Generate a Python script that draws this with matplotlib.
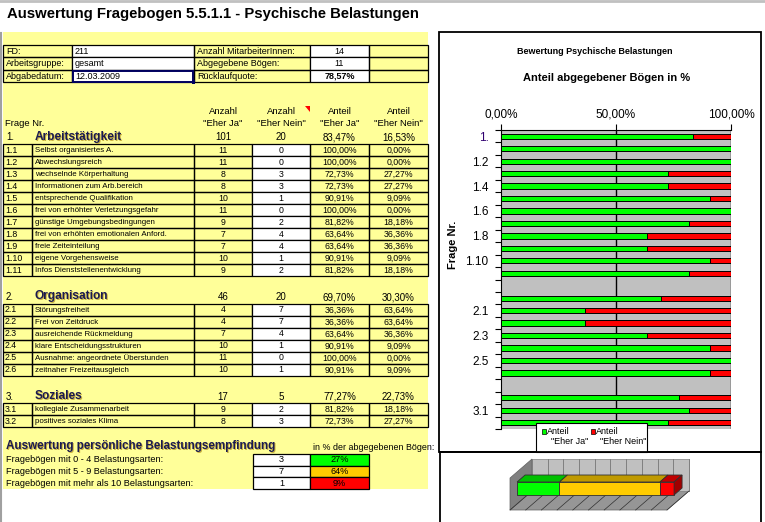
import numpy as np
import matplotlib
matplotlib.use('Agg')
import matplotlib.pyplot as plt
from matplotlib.patches import Rectangle, Polygon

plt.rcParams['font.family'] = ['Liberation Sans', 'DejaVu Sans']

# ---- data ----
info_left = ['FD:', 'Arbeitsgruppe:', 'Abgabedatum:']
info_left_val = ['211', 'gesamt', '12.03.2009']
info_right = ['Anzahl MitarbeiterInnen:', 'Abgegebene Bögen:', 'Rücklaufquote:']
info_right_val = ['14', '11', '78,57%']

sec_nr = ['1.', '2.', '3.']
sec_titles = ['Arbeitstätigkeit', 'Organisation', 'Soziales']
sec_ja = [101, 46, 17]
sec_nein = [20, 20, 5]
sec_pct_ja = [83.47, 69.70, 77.27]
sec_pct_nein = [16.53, 30.30, 22.73]

nr_1 = ['1.1', '1.2', '1.3', '1.4', '1.5', '1.6', '1.7', '1.8', '1.9', '1.10', '1.11']
text_1 = ['Selbst organisiertes A.', 'Abwechslungsreich', 'wechselnde Körperhaltung',
          'Informationen zum Arb.bereich', 'entsprechende Qualifikation',
          'frei von erhöhter Verletzungsgefahr', 'günstige Umgebungsbedingungen',
          'frei von erhöhten emotionalen Anford.', 'freie Zeiteinteilung',
          'eigene Vorgehensweise', 'Infos Dienststellenentwicklung']
ja_1 = [11, 11, 8, 8, 10, 11, 9, 7, 7, 10, 9]
nein_1 = [0, 0, 3, 3, 1, 0, 2, 4, 4, 1, 2]
pct_ja_1 = [100.00, 100.00, 72.73, 72.73, 90.91, 100.00, 81.82, 63.64, 63.64, 90.91, 81.82]
pct_nein_1 = [0.00, 0.00, 27.27, 27.27, 9.09, 0.00, 18.18, 36.36, 36.36, 9.09, 18.18]

nr_2 = ['2.1', '2.2', '2.3', '2.4', '2.5', '2.6']
text_2 = ['Störungsfreiheit', 'Frei von Zeitdruck', 'ausreichende Rückmeldung',
          'klare Entscheidungsstrukturen', 'Ausnahme: angeordnete Überstunden',
          'zeitnaher Freizeitausgleich']
ja_2 = [4, 4, 7, 10, 11, 10]
nein_2 = [7, 7, 4, 1, 0, 1]
pct_ja_2 = [36.36, 36.36, 63.64, 90.91, 100.00, 90.91]
pct_nein_2 = [63.64, 63.64, 36.36, 9.09, 0.00, 9.09]

nr_3 = ['3.1', '3.2']
text_3 = ['kollegiale Zusammenarbeit', 'positives soziales Klima']
ja_3 = [9, 8]
nein_3 = [2, 3]
pct_ja_3 = [81.82, 72.73]
pct_nein_3 = [18.18, 27.27]

bel_labels = ['Fragebögen mit 0 - 4 Belastungsarten:', 'Fragebögen mit 5 - 9 Belastungsarten:',
              'Fragebögen mit mehr als 10 Belastungsarten:']
bel_count = [3, 7, 1]
bel_pct = [27, 64, 9]
bel_colors = ['#00FF00', '#FFCC00', '#FF0000']
bel_top = ['#00C000', '#C09A00', '#C00000']

sections = [(nr_1, text_1, ja_1, nein_1, pct_ja_1, pct_nein_1),
            (nr_2, text_2, ja_2, nein_2, pct_ja_2, pct_nein_2),
            (nr_3, text_3, ja_3, nein_3, pct_ja_3, pct_nein_3)]


def pct(v, d=2):
    return f'{v:.{d}f}'.replace('.', ',') + '%'


fig = plt.figure(figsize=(7.65, 5.22), dpi=100)
bg = fig.add_axes([0, 0, 1, 1], zorder=0)
bg.set_xlim(0, 765)
bg.set_ylim(522, 0)
bg.axis('off')

YEL = '#FFFF99'
bg.add_patch(Rectangle((3, 32), 425, 457, facecolor=YEL, edgecolor='none'))
bg.plot([0, 765], [1, 1], color='#C0C0C0', lw=2)
bg.plot([1, 1], [33, 522], color='#A0A0A0', lw=1.5)

bg.text(7, 14, 'Auswertung Fragebogen 5.5.1.1 - Psychische Belastungen',
        fontsize=10.7, fontweight='bold', va='center')


def cell(x0, x1, y0, h, fc=None, lw=0.9):
    bg.add_patch(Rectangle((x0, y0), x1 - x0, h, facecolor=fc if fc else 'none',
                           edgecolor='black', lw=lw))


def shadow_text(x, y, s, size):
    bg.text(x + 0.7, y + 0.7, s, fontsize=size, fontweight='bold', va='center', color='#C8B040')
    bg.text(x, y, s, fontsize=size, fontweight='bold', va='center', color='#1A1A50')


# info block
ix = [3, 72, 194, 310, 369, 428]
for i in range(3):
    y0 = 45 + i * 12.3
    cell(ix[0], ix[1], y0, 12.3)
    cell(ix[1], ix[2], y0, 12.3, 'white')
    cell(ix[2], ix[3], y0, 12.3)
    cell(ix[3], ix[4], y0, 12.3, 'white')
    cell(ix[4], ix[5], y0, 12.3)
    yc = y0 + 6.5
    bg.text(6, yc, info_left[i], fontsize=6.5, va='center')
    bg.text(75, yc, info_left_val[i], fontsize=6.5, va='center')
    bg.text(197, yc, info_right[i], fontsize=6.5, va='center')
    bg.text((ix[3] + ix[4]) / 2, yc, info_right_val[i], fontsize=6.5, va='center', ha='center',
            fontweight='bold' if i == 2 else 'normal')
# selected cell
bg.add_patch(Rectangle((73, 70.5), 120.5, 11, facecolor='none', edgecolor='#000060', lw=1.4))
bg.add_patch(Rectangle((192, 80), 3.5, 3.5, facecolor='#000060', edgecolor='none'))

# table header
cx = [3, 32, 194, 252, 310, 369, 428]
cc = [(cx[2] + cx[3]) / 2, (cx[3] + cx[4]) / 2, (cx[4] + cx[5]) / 2, (cx[5] + cx[6]) / 2]
heads = [('Anzahl', '"Eher Ja"'), ('Anzahl', '"Eher Nein"'), ('Anteil', '"Eher Ja"'), ('Anteil', '"Eher Nein"')]
for c, (a, b) in zip(cc, heads):
    bg.text(c, 111, a, fontsize=6.8, ha='center', va='center')
    bg.text(c, 123.5, b, fontsize=6.8, ha='center', va='center')
bg.text(5, 124, 'Frage Nr.', fontsize=6.8, va='center')
bg.add_patch(Polygon([(305, 106), (310.5, 106), (310.5, 111.5)], closed=True, facecolor='red', edgecolor='none'))

start = 144
RH = 12
for s, (nrs, texts, ja, nein, pja, pnein) in enumerate(sections):
    hy = start - 6.5
    bg.text(6, hy, sec_nr[s], fontsize=7, va='center')
    shadow_text(35, hy - 0.5, sec_titles[s], 8.6)
    vals = [str(sec_ja[s]), str(sec_nein[s]), pct(sec_pct_ja[s]), pct(sec_pct_nein[s])]
    for c, v in zip(cc, vals):
        bg.text(c, hy, v, fontsize=7, ha='center', va='center')
    for i in range(len(nrs)):
        y0 = start + i * RH
        for k in range(6):
            cell(cx[k], cx[k + 1], y0, RH, 'white' if k == 3 else None)
        yc = y0 + RH / 2 + 0.5
        bg.text(5, yc, nrs[i], fontsize=6.3, va='center')
        bg.text(35, yc, texts[i], fontsize=5.7, va='center')
        vals = [str(ja[i]), str(nein[i]), pct(pja[i]), pct(pnein[i])]
        for c, v in zip(cc, vals):
            bg.text(c, yc, v, fontsize=6.3, ha='center', va='center')
    start = start + len(nrs) * RH + 27.5

# personal load evaluation
shadow_text(6, 446.5, 'Auswertung persönliche Belastungsempfindung', 8.4)
bg.text(313, 447, 'in % der abgegebenen Bögen:', fontsize=6.4, va='center')
for i in range(3):
    y0 = 454 + i * 11.6
    cell(253, 310, y0, 11.6, 'white')
    cell(310, 369, y0, 11.6, bel_colors[i])
    bg.text(6, y0 + 6, bel_labels[i], fontsize=6.6, va='center')
    bg.text(281.5, y0 + 6, str(bel_count[i]), fontsize=6.6, ha='center', va='center')
    bg.text(339.5, y0 + 6, f'{bel_pct[i]}%', fontsize=6.6, ha='center', va='center')

# ---- chart box ----
bg.add_patch(Rectangle((439, 32), 322, 420, facecolor='white', edgecolor='black', lw=1.3))
bg.add_patch(Rectangle((440, 452), 321, 80, facecolor='white', edgecolor='black', lw=1.3))
bg.text(595, 52, 'Bewertung Psychische Belastungen', fontsize=6.5, fontweight='bold',
        ha='center', va='center')
bg.text(607, 78, 'Anteil abgegebener Bögen in %', fontsize=8, fontweight='bold',
        ha='center', va='center')
bg.text(453, 245, 'Frage Nr.', fontsize=8, fontweight='bold', rotation=90, ha='center', va='center')

frage = ['1.'] + nr_1 + [''] + ['2.'] + nr_2 + [''] + ['3.'] + nr_3
bar_ja = [sec_pct_ja[0]] + pct_ja_1 + [np.nan] + [sec_pct_ja[1]] + pct_ja_2 + [np.nan] + [sec_pct_ja[2]] + pct_ja_3
bar_nein = [sec_pct_nein[0]] + pct_nein_1 + [np.nan] + [sec_pct_nein[1]] + pct_nein_2 + [np.nan] + [sec_pct_nein[2]] + pct_nein_3
ypos = np.arange(len(frage))

ax = fig.add_axes([501 / 765, 93 / 522, 230 / 765, 299 / 522], zorder=2)
ax.set_facecolor('#C0C0C0')
ax.barh(ypos, bar_ja, height=0.42, color='#00FF00', edgecolor='black', lw=0.7, zorder=3)
ax.barh(ypos, bar_nein, left=bar_ja, height=0.42, color='#FF0000', edgecolor='black', lw=0.7, zorder=3)
ax.set_xlim(0, 100)
ax.set_ylim(len(frage) - 0.5, -0.5)
for v in [50, 100]:
    ax.axvline(v, color='black', lw=1, zorder=2)
ax.xaxis.tick_top()
ax.set_xticks([0, 50, 100])
ax.set_xticklabels([pct(v) for v in [0, 50, 100]], fontsize=8.5)
ax.tick_params(axis='x', length=4, pad=3)
ax.set_yticks(np.arange(len(frage) + 1) - 0.5)
ax.set_yticklabels([])
ax.tick_params(axis='y', which='major', length=4)
ax.set_yticks(ypos[::2], minor=True)
ax.set_yticklabels(frage[::2], minor=True, fontsize=8.5)
ax.tick_params(axis='y', which='minor', length=0, pad=9)
ax.get_yticklabels(minor=True)[0].set_color('#300070')
for sp in ['right', 'bottom']:
    ax.spines[sp].set_visible(False)

# legend (drawn above the plot area)
fg = fig.add_axes([0, 0, 1, 1], zorder=5)
fg.set_xlim(0, 765)
fg.set_ylim(522, 0)
fg.axis('off')
fg.patch.set_alpha(0)
fg.add_patch(Rectangle((536, 423), 111, 29, facecolor='white', edgecolor='black', lw=0.8))
for lx, col, lab in [(542, '#00FF00', '"Eher Ja"'), (591, '#FF0000', '"Eher Nein"')]:
    fg.add_patch(Rectangle((lx, 429), 4.5, 4.5, facecolor=col, edgecolor='black', lw=0.5))
    fg.text(lx + 5, 431.5, 'Anteil', fontsize=6.5, va='center')
    fg.text(lx + 9, 441, lab, fontsize=6.5, va='center')
fg.plot([440, 761], [452, 452], color='black', lw=1.3)

# ---- 3D stacked bar (lower chart) ----
a3 = fig.add_axes([441 / 765, 0, 319 / 765, 69 / 522], zorder=2)
a3.set_xlim((441 - 510) / 1.57, (760 - 510) / 1.57)
a3.set_ylim(0, 69)
a3.axis('off')
dx, dy = 14, 19
a3.add_patch(Polygon([(0, 12), (100, 12), (100 + dx, 12 + dy), (dx, 12 + dy)], facecolor='#969696', edgecolor='#606060', lw=0.5))
a3.add_patch(Rectangle((dx, 12 + dy), 100, 32, facecolor='#C0C0C0', edgecolor='#808080', lw=0.5))
a3.add_patch(Polygon([(0, 12), (dx, 12 + dy), (dx, 12 + dy + 32), (0, 44)], facecolor='#808080', edgecolor='#606060', lw=0.5))
for k in range(11):
    a3.plot([dx + k * 10, dx + k * 10], [12 + dy, 12 + dy + 32], color='#808080', lw=0.7)
    a3.plot([k * 10, dx + k * 10], [12, 12 + dy], color='#303030', lw=0.5)
left = np.concatenate([[0], np.cumsum(bel_pct)[:-1]])
off = 4.5
tdx, tdy = 5.1, 7
a3.barh(33.5, bel_pct, left=left + off, height=13, color=bel_colors, edgecolor='#303030', lw=0.6, zorder=3)
for l, w, c in zip(left + off, bel_pct, bel_top):
    a3.add_patch(Polygon([(l, 40), (l + w, 40), (l + w + tdx, 40 + tdy), (l + tdx, 40 + tdy)],
                         facecolor=c, edgecolor='#303030', lw=0.6, zorder=3))
r = left[-1] + off + bel_pct[-1]
a3.add_patch(Polygon([(r, 27), (r, 40), (r + tdx, 40 + tdy), (r + tdx, 27 + tdy)],
                     facecolor='#A00000', edgecolor='#303030', lw=0.6, zorder=3))

fig.savefig('out.png', dpi=100)
